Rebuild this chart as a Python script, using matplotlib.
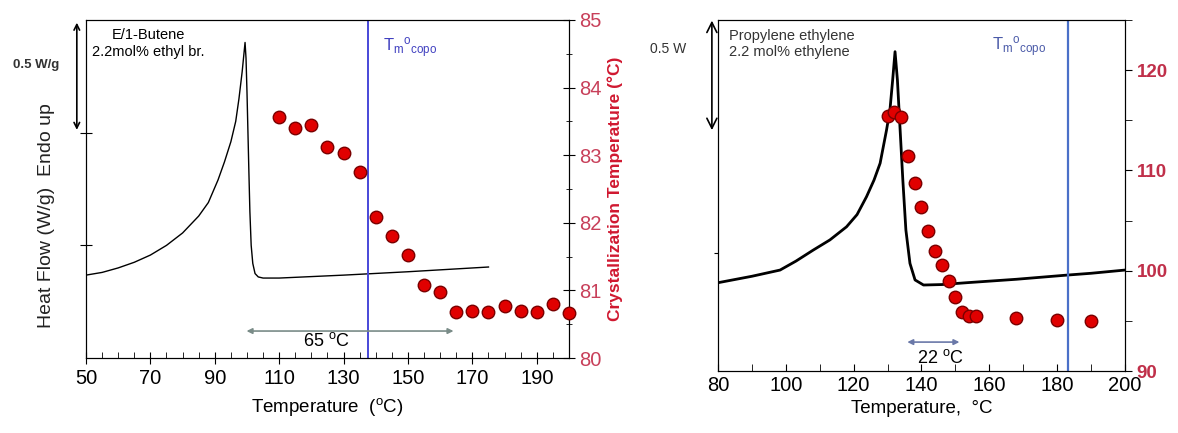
import matplotlib
matplotlib.use("Agg")
import matplotlib.pyplot as plt
from matplotlib.ticker import MultipleLocator, NullFormatter

plt.rcParams['font.family'] = ['Liberation Sans', 'DejaVu Sans']

# ---- left panel: E/1-butene, 2.2 mol% ethyl branches ----
# DSC trace, heat flow in W/g (arbitrary offset)
dsc1_T = [50, 55, 60, 65, 70, 75, 80, 85, 88, 91, 93, 95, 96.5, 97.5, 98.5, 99.4,
          99.7, 100.0, 100.3, 100.6, 100.9, 101.3, 101.8, 102.5, 103.5, 105, 110,
          130, 150, 175]
dsc1_W = [0.368, 0.38, 0.40, 0.425, 0.457, 0.50, 0.555, 0.63, 0.69, 0.79, 0.87, 0.96,
          1.05, 1.15, 1.27, 1.40, 1.33, 1.18, 1.0, 0.82, 0.65, 0.50, 0.42, 0.375,
          0.36, 0.355, 0.355, 0.368, 0.383, 0.404]
# crystallization temperature vs self-nucleation temperature
ts1 = [110, 115, 120, 125, 130, 135, 140, 145, 150, 155,
       160, 165, 170, 175, 180, 185, 190, 195, 200]
tc1 = [83.57, 83.40, 83.45, 83.12, 83.03, 82.75, 82.09, 81.80, 81.52, 81.08,
       80.98, 80.68, 80.70, 80.68, 80.77, 80.70, 80.68, 80.80, 80.66]
tm_copo1 = 137.6

# ---- right panel: propylene ethylene, 2.2 mol% ethylene ----
dsc2_T = [80, 90, 98.3, 103, 108.1, 113, 117.9, 121, 123.8, 126, 127.8, 129.7,
          130.7, 131.5, 132.2, 132.9, 133.7, 134.5, 135.4, 136.6, 138.1, 140.6,
          146, 153.3, 168, 182.8, 190, 200]
dsc2_W = [0.384, 0.412, 0.439, 0.478, 0.526, 0.57, 0.627, 0.68, 0.758, 0.83, 0.903,
          1.048, 1.135, 1.265, 1.388, 1.265, 1.048, 0.83, 0.613, 0.468, 0.396, 0.374,
          0.376, 0.384, 0.399, 0.417, 0.425, 0.439]
ts2 = [130, 132, 134, 136, 138, 140, 142, 144, 146, 148,
       150, 152, 154, 156, 168, 180, 190]
tc2 = [115.4, 115.8, 115.3, 111.4, 108.7, 106.4, 104.0, 102.0, 100.6, 99.0,
       97.4, 95.9, 95.5, 95.5, 95.3, 95.1, 95.0]
tm_copo2 = 183.2

red_lab = '#c8405a'
mk = dict(marker='o', linestyle='none', markersize=9,
          markerfacecolor='#e00000', markeredgecolor='#7a0000', markeredgewidth=1)
tm_label = r'$\mathregular{T_m{}^o{}_{copo}}$'

fig = plt.figure(figsize=(11.78, 4.33), dpi=100)

# ================= left panel =================
ax1 = fig.add_axes([0.073, 0.173, 0.410, 0.781])
ax1.plot(dsc1_T, dsc1_W, color='black', lw=1.0)
ax1.set_xlim(50, 200)
ax1.set_ylim(0, 1.5)
ax1.set_xticks(range(50, 200, 20))
ax1.xaxis.set_minor_locator(MultipleLocator(5))
ax1.set_yticks([0.5, 1.0])
ax1.yaxis.set_major_formatter(NullFormatter())
ax1.tick_params(axis='x', which='major', direction='inout', length=8, labelsize=14.5)
ax1.tick_params(axis='x', which='minor', direction='in', length=4)
ax1.tick_params(axis='y', direction='inout', length=8)
ax1.set_xlabel(r'Temperature  ($\mathregular{^o}$C)', fontsize=13.5, labelpad=6)
ax1.set_ylabel('Heat Flow (W/g)  Endo up', fontsize=14, color='#222222')
ax1.yaxis.set_label_coords(-0.064, 0.42)
ax1.axvline(tm_copo1, color='#4848d8', lw=1.4)
ax1.text(142.2, 0.917, tm_label, color='#4040c0',
         fontsize=12, va='center', transform=ax1.get_xaxis_transform())
ax1.text(0.012, 0.975, 'E/1-Butene\n2.2mol% ethyl br.', transform=ax1.transAxes,
         fontsize=10.5, va='top', ha='left', multialignment='center')
ax1.annotate('', xy=(99, 0.12), xytext=(165, 0.12),
             arrowprops=dict(arrowstyle='<|-|>', color='#7a8c88', lw=1.2,
                             mutation_scale=8))
ax1.text(124.8, 0.075, r'65 $\mathregular{^o}$C', ha='center', va='center', fontsize=13)
tr1 = ax1.get_yaxis_transform()
ax1.annotate('', xy=(-0.019, 1.0), xytext=(-0.019, 1.5), xycoords=tr1, textcoords=tr1,
             arrowprops=dict(arrowstyle='<->', color='black', lw=1.2), annotation_clip=False)
ax1.text(-0.104, 1.30, '0.5 W/g', transform=tr1, ha='center', va='center',
         fontsize=9.5, fontweight='bold', color='#333333')

ax1b = ax1.twinx()
ax1b.plot(ts1, tc1, **mk, clip_on=False, zorder=5)
ax1b.set_ylim(80, 85)
ax1b.yaxis.set_major_locator(MultipleLocator(1))
ax1b.yaxis.set_minor_locator(MultipleLocator(0.5))
ax1b.tick_params(axis='y', which='major', direction='inout', length=8,
                 labelsize=14.5, labelcolor=red_lab)
ax1b.tick_params(axis='y', which='minor', direction='inout', length=5)
ax1b.set_ylabel('Crystallization Temperature (°C)', color='#d01830',
                fontsize=12.5, fontweight='bold', labelpad=4)

# ================= right panel =================
ax2 = fig.add_axes([0.6095, 0.143, 0.3455, 0.811])
ax2.plot(dsc2_T, dsc2_W, color='black', lw=2.0)
ax2.set_xlim(80, 200)
ax2.set_ylim(0, 1.526)
ax2.set_xticks(range(80, 201, 20))
ax2.xaxis.set_minor_locator(MultipleLocator(10))
ax2.set_yticks([0.513])
ax2.yaxis.set_major_formatter(NullFormatter())
ax2.tick_params(axis='x', which='both', direction='in', length=5, labelsize=14.5)
ax2.tick_params(axis='y', direction='out', length=3)
ax2.set_xlabel('Temperature,  °C', fontsize=13.5, labelpad=4)
ax2.axvline(tm_copo2, color='#4a70c8', lw=1.6)
ax2.text(160.8, 0.923, tm_label, color='#4a5aa8',
         fontsize=12, va='center', transform=ax2.get_xaxis_transform())
ax2.text(0.027, 0.975, 'Propylene ethylene\n2.2 mol% ethylene', transform=ax2.transAxes,
         fontsize=10.5, va='top', ha='left', color='#333333')
ax2.annotate('', xy=(135, 0.126), xytext=(152, 0.126),
             arrowprops=dict(arrowstyle='<|-|>', color='#6a78a8', lw=1.2,
                             mutation_scale=8))
ax2.text(145.5, 0.057, r'22 $\mathregular{^o}$C', ha='center', va='center', fontsize=13)
tr2 = ax2.get_yaxis_transform()
ax2.annotate('', xy=(-0.015, 1.035), xytext=(-0.015, 1.535), xycoords=tr2, textcoords=tr2,
             arrowprops=dict(arrowstyle='<->', color='black', lw=1.2, mutation_scale=18),
             annotation_clip=False)
ax2.text(-0.123, 1.40, '0.5 W', transform=tr2, ha='center', va='center',
         fontsize=10, color='#333333')

ax2b = ax2.twinx()
ax2b.plot(ts2, tc2, **mk, zorder=5)
ax2b.set_ylim(90, 125)
ax2b.set_yticks([90, 100, 110, 120])
ax2b.yaxis.set_minor_locator(MultipleLocator(5))
ax2b.tick_params(axis='y', which='both', direction='out', length=5,
                 labelsize=13.5, labelcolor='#c0304a')
for lab in ax2b.get_yticklabels():
    lab.set_fontweight('bold')

fig.savefig('out.png', dpi=100)
